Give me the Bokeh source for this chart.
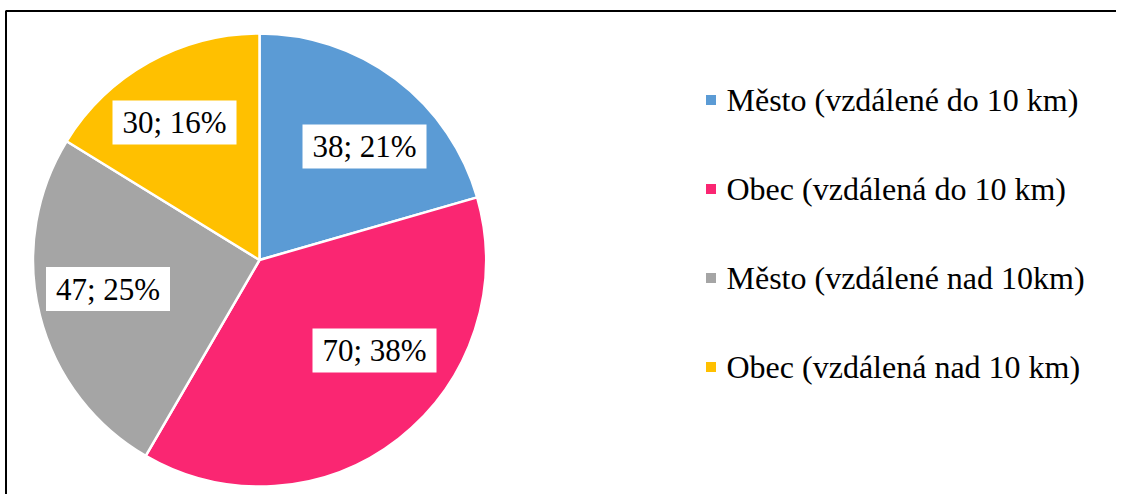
import math
from bokeh.plotting import figure
from bokeh.models import Range1d, ColumnDataSource
from bokeh.core.properties import value
from bokeh.embed import file_html
from bokeh.resources import INLINE

# ---- data ----
categories = [
    "Město (vzdálené do 10 km)",
    "Obec (vzdálená do 10 km)",
    "Město (vzdálené nad 10km)",
    "Obec (vzdálená nad 10 km)",
]
counts = [38, 70, 47, 30]
colors = ["#5B9BD5", "#FA2672", "#A5A5A5", "#FFC000"]

# ---- layout (page pixel coordinates) ----
CX, CY, R = 260, 260.5, 226.5
label_xy = [(365, 147), (375, 351), (108.5, 289.5), (175, 123)]
LEG_X, LEG_Y0, LEG_DY = 711.5, 100.5, 89
FONT = value("Liberation Serif")
LABEL_SIZE = "31px"
LEGEND_SIZE = "32px"

total = sum(counts)
fracs = [c / total for c in counts]
starts, ends = [], []
cum = 0.0
for f in fracs:
    starts.append(math.pi / 2 - 2 * math.pi * cum)
    cum += f
    ends.append(math.pi / 2 - 2 * math.pi * cum)
labels = [f"{c}; {round(f * 100)}%" for c, f in zip(counts, fracs)]

src = ColumnDataSource(dict(
    cat=categories, count=counts, color=colors,
    start=starts, end=ends, label=labels,
    lx=[p[0] for p in label_xy], ly=[-p[1] for p in label_xy],
    legx=[LEG_X] * len(categories),
    legy=[-(LEG_Y0 + LEG_DY * i) for i in range(len(categories))],
    legtx=[LEG_X + 15.5] * len(categories),
))

p = figure(width=1116, height=494, output_backend="svg", toolbar_location=None,
           x_range=Range1d(1, 1117), y_range=Range1d(-495, -1),
           x_axis_type=None, y_axis_type=None, min_border=0)
p.grid.visible = False
p.outline_line_color = None
p.background_fill_color = "white"
p.border_fill_color = "white"

# chart frame
p.quad(left=6.5, right=1400, top=-11.5, bottom=-800, fill_color=None,
       line_color="black", line_width=2)

# pie
p.wedge(x=CX, y=-CY, radius=R, start_angle="start", end_angle="end",
        direction="clock", fill_color="color", line_color="white",
        line_width=2.5, source=src)

# data labels
p.rect(x="lx", y="ly", width=124, height=44, fill_color="white",
       line_color=None, source=src)
p.text(x="lx", y="ly", text="label", text_align="center",
       text_baseline="middle", text_font=FONT, text_font_size=LABEL_SIZE,
       text_color="black", source=src)

# legend
p.rect(x="legx", y="legy", width=10, height=10, fill_color="color",
       line_color=None, source=src)
p.text(x="legtx", y="legy", text="cat", text_align="left",
       text_baseline="middle", text_font=FONT, text_font_size=LEGEND_SIZE,
       text_color="black", source=src)

open("out.html", "w").write(file_html(p, INLINE))
